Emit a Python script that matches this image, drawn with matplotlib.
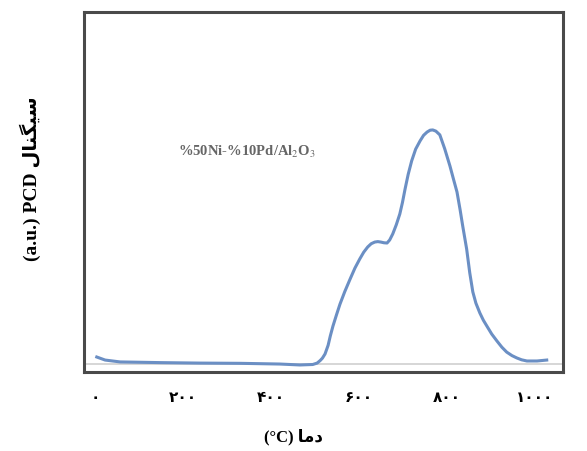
import numpy as np
import matplotlib.pyplot as plt

# temperature (C) and PCD signal (a.u., peak = 100)
temp = [4, 23, 57, 150, 239, 330, 420, 466, 495, 505, 512, 517, 523, 530,
        535, 541, 549, 557, 568, 580, 591, 602, 611, 620, 628, 636, 643,
        650, 657, 664, 670, 677, 685, 693, 699, 705, 712, 720, 729, 739,
        747, 755, 762, 768, 775, 784, 795, 807, 815, 823, 830, 836, 841,
        845, 852, 859, 866, 875, 883, 891, 902, 914, 925, 936, 948, 959,
        970, 982, 1005, 1027]
signal = [3.0, 1.7, 0.9, 0.6, 0.4, 0.3, 0.0, -0.4, -0.2, 0.4, 1.5, 2.5,
          4.3, 8.0, 12.0, 16.2, 21.0, 25.6, 31.0, 36.3, 41.0, 44.9, 47.8,
          50.0, 51.4, 52.1, 52.3, 52.1, 51.8, 51.7, 53.0, 55.6, 59.5, 64.1,
          69.0, 74.8, 81.0, 86.8, 91.8, 95.3, 97.7, 99.1, 99.9, 100.0, 99.5,
          97.9, 92.0, 84.6, 79.0, 73.5, 66.0, 59.0, 53.5, 49.1, 39.0, 30.8,
          26.0, 21.8, 18.7, 16.2, 12.8, 9.8, 7.2, 5.1, 3.6, 2.6, 1.8, 1.3,
          1.3, 1.7]

xticks = [0, 200, 400, 600, 800, 1000]
xtick_labels = ['\u06F0', '\u06F2\u06F0\u06F0', '\u06F4\u06F0\u06F0',
                '\u06F6\u06F0\u06F0', '\u06F8\u06F0\u06F0',
                '\u06F1\u06F0\u06F0\u06F0']

# pre-shaped, visual order (matplotlib does no bidi/shaping)
xlabel = '(\u00B0C) \uFE8E\uFEE3\uFEA9'
ylabel = '(a.u.) PCD \uFEDD\uFE8E\uFEE8\uFB95\uFBFF\uFEB3'
sample = '%50Ni-%10Pd/Al$_2$O$_3$'

fonts = ['Liberation Serif', 'DejaVu Sans']
plt.rcParams['mathtext.fontset'] = 'stix'

fig = plt.figure(figsize=(5.87, 4.52), dpi=100)
ax = fig.add_axes([0.1431, 0.1748, 0.816, 0.7965])

ax.axhline(0, color='#d0d0d0', lw=1.2, zorder=1)
ax.plot(temp, signal, color='#6b8fc4', lw=2.2, zorder=2,
        solid_joinstyle='round')

ax.set_xlim(-25, 1064)
ax.set_ylim(-3.4, 150.4)
ax.set_yticks([])
ax.set_xticks(xticks)
ax.set_xticklabels(xtick_labels, family=fonts, fontweight='bold', fontsize=11)
ax.tick_params(axis='x', length=0, pad=14)

for s in ax.spines.values():
    s.set_color('#4a4a4a')
    s.set_linewidth(2.2)

ax.text(345, 91, sample, family=fonts, fontsize=10.5, fontweight='bold',
        color='#666666', ha='center', va='center')

fig.text(0.5, 0.033, xlabel, family=fonts, fontsize=12, fontweight='bold',
         ha='center', va='center')
fig.text(0.052, 0.605, ylabel, family=fonts, fontsize=14, fontweight='bold',
         ha='center', va='center', rotation=90)

fig.savefig('out.png', dpi=100)
